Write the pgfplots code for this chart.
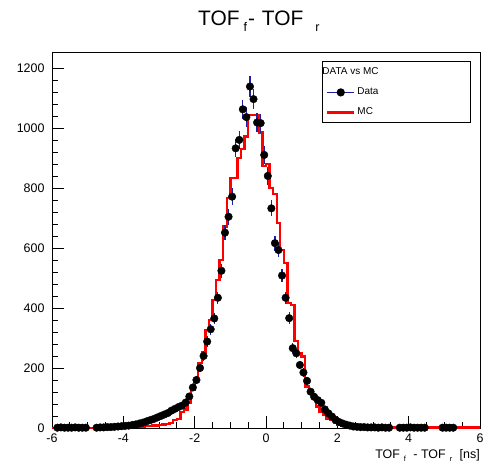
\documentclass[border=0pt]{standalone}
\usepackage{pgfplots}
\usepackage{pgfplotstable}
\pgfplotsset{compat=1.18}
\usepackage{fontspec}
\setmainfont{Liberation Sans}
\definecolor{errblue}{RGB}{30,30,170}

\pgfplotstableread{
x y e
-5.85 1 1
-5.75 2 1.4
-5.65 1 1
-5.55 1 1
-5.45 1 1
-5.35 2 1.4
-5.25 1 1
-5.15 1 1
-5.05 1 1
-4.75 1 1
-4.65 2 1.4
-4.55 2 1.4
-4.45 3 1.7
-4.35 3 1.7
-4.25 4 2
-4.15 5 2.2
-4.05 6 2.4
-3.95 7 2.6
-3.85 8 2.8
-3.75 10 3.2
-3.65 12 3.5
-3.55 15 3.9
-3.45 18 4.2
-3.35 22 4.7
-3.25 26 5.1
-3.15 30 5.5
-3.05 35 5.9
-2.95 40 6.3
-2.85 45 6.7
-2.75 50 7.1
-2.65 58 7.6
-2.55 64 8
-2.45 70 8.4
-2.35 75 8.7
-2.25 85 9.2
-2.15 105 10.2
-2.05 135 11.6
-1.95 160 12.6
-1.85 200 14.1
-1.75 240 15.5
-1.65 288 17
-1.55 329 18.1
-1.45 365 19.1
-1.35 434 20.8
-1.25 524 22.9
-1.15 651 25.5
-1.05 704 26.5
-0.95 771 27.8
-0.85 932 30.5
-0.75 960 31
-0.65 1062 32.6
-0.55 1036 32.2
-0.45 1138 33.7
-0.35 1096 33.1
-0.25 1018 31.9
-0.15 1016 31.9
-0.05 910 30.2
0.05 840 29
0.15 732 27.1
0.25 616 24.8
0.35 593 24.4
0.45 508 22.5
0.55 434 20.8
0.65 366 19.1
0.75 266 16.3
0.85 249 15.8
0.95 210 14.5
1.05 185 13.6
1.15 157 12.5
1.25 121 11
1.35 104 10.2
1.45 93 9.6
1.55 84 9.2
1.65 62 7.9
1.75 49 7
1.85 38 6.2
1.95 27 5.2
2.05 20 4.5
2.15 15 3.9
2.25 11 3.3
2.35 8 2.8
2.45 5 2.2
2.55 4 2
2.65 3 1.7
2.75 3 1.7
2.85 2 1.4
2.95 2 1.4
3.05 2 1.4
3.15 1 1
3.25 2 1.4
3.35 1 1
3.45 1 1
3.75 1 1
3.85 1 1
3.95 1 1
4.05 2 1.4
4.15 1 1
4.25 1 1
4.35 1 1
4.45 1 1
4.95 1 1
5.05 1 1
5.15 1 1
5.25 1 1
}\datatable

\pgfplotstableread{
x y
-6.0 1
-5.9 1
-5.8 1
-5.7 1
-5.6 1
-5.5 1
-5.4 1
-5.3 1
-5.2 1
-5.1 1
-5.0 1
-4.9 1
-4.8 1
-4.7 1
-4.6 1
-4.5 1
-4.4 1
-4.3 1
-4.2 1
-4.1 1
-4.0 2
-3.9 2
-3.8 3
-3.7 3
-3.6 4
-3.5 5
-3.4 6
-3.3 7
-3.2 8
-3.1 9
-3.0 10
-2.9 12
-2.8 14
-2.7 16
-2.6 27
-2.5 30
-2.4 54
-2.3 62
-2.2 85
-2.1 127
-2.0 160
-1.9 216
-1.8 254
-1.7 327
-1.6 360
-1.5 427
-1.4 493
-1.3 560
-1.2 671
-1.1 767
-1.0 833
-0.9 833
-0.8 900
-0.7 930
-0.6 971
-0.5 1043
-0.4 1043
-0.3 1043
-0.2 985
-0.1 873
0.0 880
0.1 800
0.2 780
0.3 683
0.4 593
0.5 550
0.6 417
0.7 410
0.8 290
0.9 250
1.0 238
1.1 138
1.2 125
1.3 110
1.4 71
1.5 55
1.6 45
1.7 30
1.8 27
1.9 16
2.0 12
2.1 8
2.2 6
2.3 5
2.4 4
2.5 3
2.6 3
2.7 2
2.8 2
2.9 2
3.0 2
3.1 2
3.2 2
3.3 2
3.4 2
3.5 2
3.6 2
3.7 2
3.8 2
3.9 2
4.0 2
4.1 2
4.2 2
4.3 2
4.4 2
4.5 2
4.6 2
4.7 2
4.8 2
4.9 2
5.0 2
5.1 2
5.2 2
5.3 2
5.4 2
5.5 2
5.6 2
5.7 2
5.8 2
5.9 2
6.0 2
}\mctable

\newcommand{\rsub}[1]{\raisebox{-0.32em}{\fontsize{0.6em}{0.6em}\selectfont #1}}

\begin{document}
\begin{tikzpicture}
\begin{axis}[
  scale only axis, width=428bp, height=376bp,
  xmin=-6, xmax=6, ymin=0, ymax=1253,
  axis line style={line width=0.8bp},
  tick pos=left, tick align=inside,
  xtick={-6,-4,-2,0,2,4,6}, xticklabels={-6,-4,-2,0,2,4,6},
  minor x tick num=3,
  ytick={0,200,400,600,800,1000,1200}, yticklabels={0,200,400,600,800,1000,1200},
  minor y tick num=4,
  major tick length=12bp, minor tick length=6bp,
  tick style={line width=0.8bp, black},
  tick label style={font=\fontsize{12.5}{14}\selectfont},
  yticklabel style={xshift=-4bp},
  xticklabel style={yshift=-2bp},
  title={TOF\hspace{4bp}\rsub{f}\hspace{1bp}-\hspace{1bp} TOF\hspace{12bp}\rsub{r}},
  title style={at={(axis description cs:0.341,1)}, anchor=base west, yshift=21bp, font=\fontsize{21}{24}\selectfont, inner sep=0pt},
  xlabel={TOF\hspace{4bp}\rsub{f}\hspace{4bp} - TOF\hspace{4bp}\rsub{r}\hspace{4bp} [ns]},
  xlabel style={at={(axis description cs:1,0)}, anchor=base east, yshift=-30bp, font=\fontsize{12.5}{14}\selectfont, inner sep=0pt},
  legend style={at={(axis description cs:0.631,0.975)}, anchor=north west, draw=black, line width=1bp,
    font=\fontsize{10}{12}\selectfont, inner sep=3.5bp, row sep=6bp,
    nodes={inner sep=2bp, text height=7.5bp, text depth=2.5bp}},
  legend cell align=left,
]
\addlegendimage{empty legend}
\addlegendentry{\hspace{-35bp}DATA vs MC}
\addlegendimage{legend image code/.code={\draw[errblue, line width=1.2bp] (0bp,0bp) -- (27bp,0bp); \fill[black] (13.5bp,0bp) circle (3.6bp);}}
\addlegendentry{\makebox[108bp][l]{Data}}
\addlegendimage{legend image code/.code={\draw[red, line width=2.4bp] (0bp,0bp) -- (27bp,0bp);}}
\addlegendentry{\makebox[108bp][l]{MC}}

\addplot[forget plot, red, line width=2.4bp, const plot mark left] table[x=x, y=y] {\mctable};

\addplot[forget plot, only marks, mark=*, mark size=3.8bp, black, mark options={fill=black},
  error bars/.cd, y dir=both, y explicit, error bar style={errblue, line width=1.2bp}, error mark=none]
  table[x=x, y=y, y error=e] {\datatable};
\end{axis}
\pgfresetboundingbox
\path[use as bounding box] ([xshift=-52bp,yshift=-41bp]current axis.south west) rectangle ([xshift=431bp,yshift=428bp]current axis.south west);
\end{tikzpicture}
\end{document}
